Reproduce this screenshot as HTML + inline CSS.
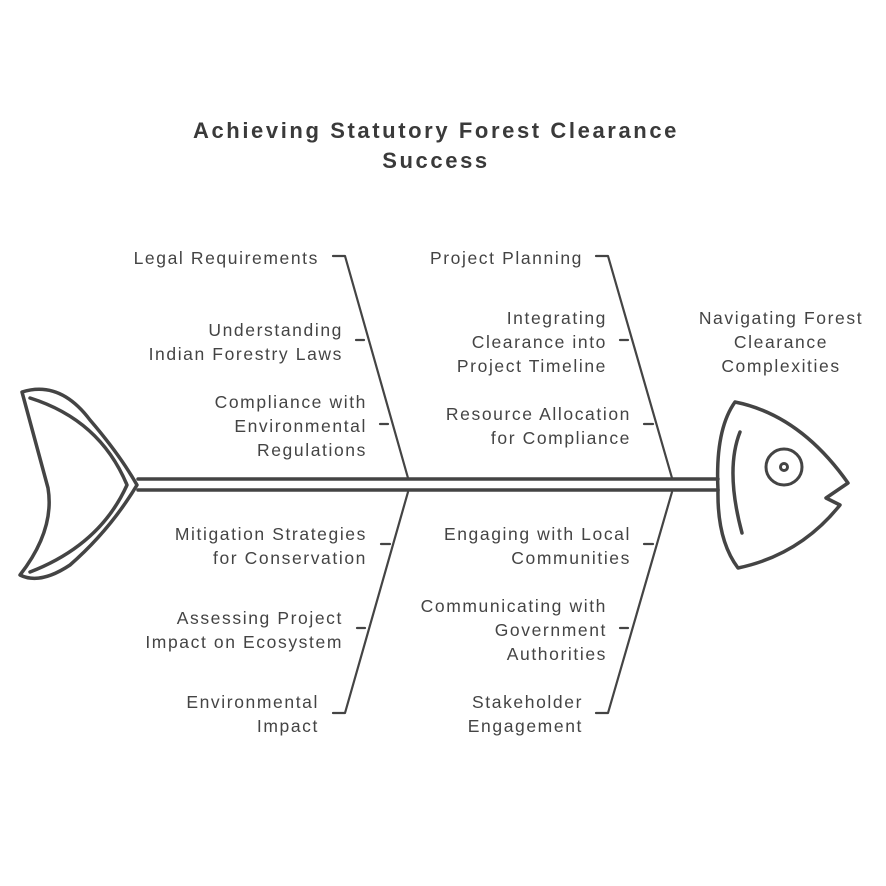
<!DOCTYPE html>
<html><head><meta charset="utf-8"><style>
html,body{margin:0;padding:0;background:#fff;}
svg{display:block}
text{font-family:"Liberation Sans",sans-serif;fill:#444;font-size:17.5px;letter-spacing:1.6px}
.t{font-weight:bold;font-size:22px;fill:#3a3a3a;letter-spacing:2.6px}
</style></head><body>
<svg width="886" height="886" viewBox="0 0 886 886">
<text class="t" x="436" y="138" text-anchor="middle">Achieving Statutory Forest Clearance</text>
<text class="t" x="436" y="168" text-anchor="middle">Success</text>
<g stroke="#444" stroke-width="2.2" fill="none" stroke-linecap="round" stroke-linejoin="round">
<path d="M333 256 H345 L408 478"/>
<path d="M356 340 H364"/><path d="M380 424 H388"/>
<path d="M596 256 H608 L672 478"/>
<path d="M620 340 H628"/><path d="M644 424 H653"/>
<path d="M408 492 L345 713 H333"/>
<path d="M381 544 H390"/><path d="M357 628 H365"/>
<path d="M672 492 L608 713 H596"/>
<path d="M644 544 H653"/><path d="M620 628 H628"/>
</g>
<g stroke="#444" stroke-width="3.5" fill="none" stroke-linecap="round" stroke-linejoin="round">
<path d="M138 479 H718"/><path d="M138 490 H718"/>
<path d="M22 392 Q60 380 90 420 Q120 455 137 485 Q110 530 70 565 Q40 585 20 575 Q55 530 48 488 Q35 440 22 392 Z"/>
<path d="M30 398 Q100 420 127 485 Q100 545 30 572"/>
<path d="M718 490 Q715 430 735 402 Q800 415 848 483 L826 498 L840 505 Q800 555 738 568 Q717 540 718 490 Z"/>
<path d="M740 432 Q725 470 742 533"/>
<circle cx="784" cy="467" r="18" stroke-width="3"/>
</g>
<circle cx="784" cy="467" r="3.5" fill="none" stroke="#444" stroke-width="3"/>
<g text-anchor="end">
<text x="319" y="264">Legal Requirements</text>
<text x="343" y="336">Understanding</text><text x="343" y="360">Indian Forestry Laws</text>
<text x="367" y="408">Compliance with</text><text x="367" y="432">Environmental</text><text x="367" y="456">Regulations</text>
<text x="367" y="540">Mitigation Strategies</text><text x="367" y="564">for Conservation</text>
<text x="343" y="624">Assessing Project</text><text x="343" y="648">Impact on Ecosystem</text>
<text x="319" y="708">Environmental</text><text x="319" y="732">Impact</text>
<text x="583" y="264">Project Planning</text>
<text x="607" y="324">Integrating</text><text x="607" y="348">Clearance into</text><text x="607" y="372">Project Timeline</text>
<text x="631" y="420">Resource Allocation</text><text x="631" y="444">for Compliance</text>
<text x="631" y="540">Engaging with Local</text><text x="631" y="564">Communities</text>
<text x="607" y="612">Communicating with</text><text x="607" y="636">Government</text><text x="607" y="660">Authorities</text>
<text x="583" y="708">Stakeholder</text><text x="583" y="732">Engagement</text>
</g>
<g text-anchor="middle">
<text x="781" y="324">Navigating Forest</text><text x="781" y="348">Clearance</text><text x="781" y="372">Complexities</text>
</g>
</svg>
</body></html>
